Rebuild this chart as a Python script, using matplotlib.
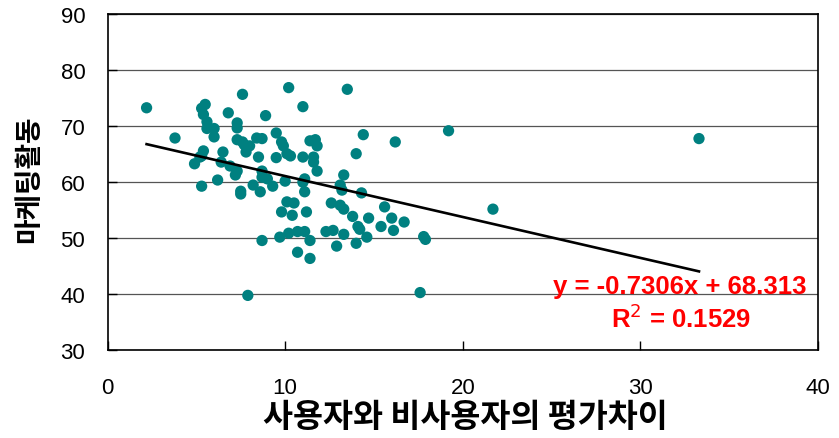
import matplotlib
matplotlib.use('Agg')
import matplotlib.pyplot as plt
import numpy as np

plt.rcParams['font.family'] = ['Liberation Sans', 'Noto Sans CJK KR', 'DejaVu Sans']

# 평가차이 (x) vs 마케팅활동 (y)
eval_diff = [2.2, 3.8, 4.9, 5.5, 5.3, 5.4, 5.6, 5.6, 6.0, 6.0,
             6.8, 7.6, 7.3, 7.3, 8.9, 10.2, 7.3, 7.7, 8.4, 8.7,
             9.5, 9.8, 9.9, 7.8, 8.5, 9.5, 10.1, 10.3, 5.4, 5.3,
             6.5, 6.4, 6.9, 7.3, 7.2, 6.2, 5.3, 7.5, 7.5, 8.2,
             8.6, 8.7, 9.0, 9.3, 10.0, 11.0, 13.5, 14.4, 16.2, 19.2,
             33.3, 14.0, 11.7, 11.8, 11.0, 11.6, 11.6, 11.8, 13.3, 11.1,
             11.0, 11.1, 13.1, 13.2, 14.3, 10.1, 10.5, 9.8, 10.4, 11.2,
             12.6, 13.1, 13.3, 13.8, 14.7, 15.6, 16.0, 16.7, 14.1, 14.2,
             15.4, 16.1, 8.7, 9.7, 10.2, 10.7, 11.1, 11.4, 12.3, 12.7,
             13.3, 14.6, 12.9, 14.0, 10.7, 11.4, 17.8, 17.9, 7.9, 17.6,
             21.7, 11.4, 8.0, 7.6, 5.2, 8.7]
marketing = [73.2, 67.8, 63.2, 73.8, 73.1, 72.0, 70.7, 69.5, 69.5, 68.0,
             72.3, 75.6, 70.5, 69.6, 71.8, 76.8, 67.5, 66.6, 67.8, 67.7,
             68.7, 67.1, 66.4, 65.3, 64.4, 64.3, 65.0, 64.6, 65.5, 64.6,
             65.3, 63.5, 62.8, 61.9, 61.2, 60.3, 59.2, 58.3, 57.8, 59.4,
             58.2, 61.9, 60.5, 59.2, 60.1, 73.4, 76.5, 68.4, 67.1, 69.1,
             67.7, 65.0, 67.5, 66.4, 64.4, 64.4, 63.5, 61.9, 61.2, 60.5,
             59.9, 58.2, 59.4, 58.5, 58.0, 56.4, 56.2, 54.6, 54.0, 54.6,
             56.2, 55.8, 55.1, 53.8, 53.5, 55.5, 53.5, 52.8, 52.0, 51.5,
             52.0, 51.3, 49.5, 50.1, 50.8, 51.1, 51.1, 49.5, 51.1, 51.3,
             50.6, 50.1, 48.5, 49.0, 47.4, 46.3, 50.2, 49.7, 39.7, 40.2,
             55.1, 67.3, 66.4, 67.1, 64.4, 60.8]

# Excel linear trendline
slope = -0.7306
intercept = 68.313
r2 = 0.1529

fig = plt.figure(figsize=(8.39, 4.39), dpi=100)
ax = fig.add_axes([107.5/839, 1-350.7/439, (818-107.5)/839, (350.7-14.7)/439])

ax.scatter(eval_diff, marketing, s=66, color='#008080', edgecolors='none', zorder=3)

xs = np.linspace(min(eval_diff), max(eval_diff), 50)
ax.plot(xs, slope*xs + intercept, color='black', lw=1.9, zorder=4)

ax.set_xlim(0, 40)
ax.set_ylim(30, 90)
ax.set_xticks([0, 10, 20, 30, 40])
ax.set_yticks([30, 40, 50, 60, 70, 80, 90])
ax.tick_params(axis='both', direction='in', length=6.5, width=1, labelsize=16)
ax.tick_params(axis='x', pad=20)
ax.tick_params(axis='y', pad=16)

for sp in ax.spines.values():
    sp.set_linewidth(1.2)

ax.set_axisbelow(True)
ax.yaxis.grid(True, color='#555555', lw=0.9)

ax.text(0.9845, 0.19, f'y = {slope}x + {intercept}', transform=ax.transAxes,
        ha='right', va='center', color='#ff0000', fontsize=18.5, fontweight='bold')
ax.text(0.807, 0.094, f'R$^{{2}}$ = {r2}', transform=ax.transAxes,
        ha='center', va='center', color='#ff0000', fontsize=18.5, fontweight='bold')

fig.text(465/839, 1-418/439, '사용자와 비사용자의 평가차이', ha='center', va='center',
         fontsize=23.5, fontweight='bold', family=['Noto Sans CJK KR', 'DejaVu Sans'])
fig.text(29/839, 1-179/439, '마케팅활동', ha='center', va='center', rotation=90,
         fontsize=20, fontweight='bold', family=['Noto Sans CJK KR', 'DejaVu Sans'])

fig.savefig('out.png', dpi=100)
